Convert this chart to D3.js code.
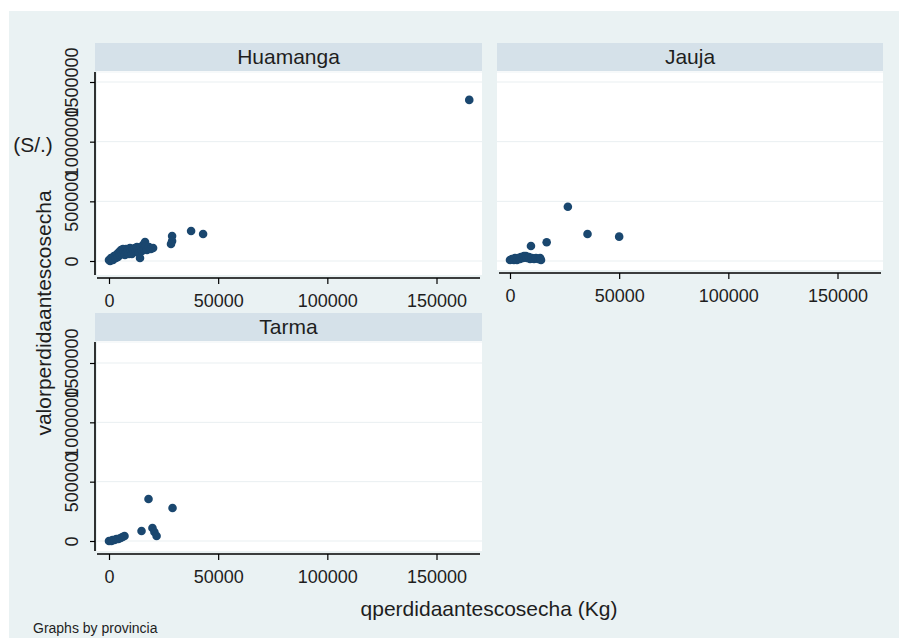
<!DOCTYPE html>
<html>
<head>
<meta charset="utf-8">
<script src="https://cdn.jsdelivr.net/npm/d3@7"></script>
<style>
  body { margin: 0; background: #ffffff; }
  svg { display: block; }
  text { font-family: "Liberation Sans", Arial, sans-serif; fill: #1e1e1e; }
</style>
</head>
<body>
<svg id="chart" width="899" height="638"></svg>
<script>
// Panels (one per provincia)
const provinces = ["Huamanga", "Jauja", "Tarma"];

// Axis ticks
const xTicks = [0, 50000, 100000, 150000];
const yTicks = [0, 500000, 1000000, 1500000];

// qperdidaantescosecha (Kg) and valorperdidaantescosecha (S/.) by provincia
const huamangaQ = [0, 500, 900, 1800, 2300, 3200, 3700, 4100, 4600, 5000, 5500, 6000, 6400, 6900, 7300, 7800, 8200, 8700, 9200, 9600, 10100, 10500, 11000, 11500, 11900, 12400, 12800, 13300, 13700, 14200, 14700, 15100, 15600, 16000, 16500, 16900, 17400, 18300, 19200, 20200, 28900, 28900, 28400, 37600, 43100, 165000];
const huamangaV = [8000, 0, 25000, 8000, 42000, 25000, 59000, 34000, 75000, 50000, 92000, 59000, 101000, 75000, 50000, 101000, 75000, 92000, 59000, 109000, 84000, 59000, 101000, 75000, 109000, 84000, 117000, 92000, 67000, 25000, 117000, 84000, 134000, 101000, 159000, 126000, 92000, 117000, 101000, 109000, 210000, 168000, 142000, 251000, 226000, 1350000];

const jaujaQ = [0, 900, 1800, 2300, 3200, 3700, 4600, 5000, 6000, 6400, 7300, 7800, 8700, 9200, 10100, 11000, 11900, 12900, 13800, 14200, 9600, 16800, 26500, 35500, 50000];
const jaujaV = [8000, 17000, 8000, 25000, 8000, 25000, 17000, 34000, 25000, 42000, 42000, 25000, 34000, 17000, 25000, 17000, 25000, 17000, 25000, 8000, 126000, 157000, 455000, 226000, 204000];

const tarmaQ = [0, 1100, 1600, 2500, 3400, 4300, 5300, 6200, 7100, 14900, 18100, 19900, 20800, 21800, 29100];
const tarmaV = [0, 0, 8000, 8000, 17000, 17000, 25000, 34000, 42000, 84000, 354000, 110000, 76000, 42000, 278000];

const seriesQ = { Huamanga: huamangaQ, Jauja: jaujaQ, Tarma: tarmaQ };
const seriesV = { Huamanga: huamangaV, Jauja: jaujaV, Tarma: tarmaV };

// Panel geometry
const layout = {
  Huamanga: { left: 95, right: 482, stripTop: 43, plotBottom: 275, x0: 109, y0: 261, yTop: 82, axisY: 278, yAxis: true },
  Jauja:    { left: 497, right: 883, stripTop: 43, plotBottom: 270, x0: 510, y0: 261, yTop: 82, axisY: 273, yAxis: false },
  Tarma:    { left: 95, right: 482, stripTop: 313, plotBottom: 551, x0: 109, y0: 541, yTop: 363, axisY: 554, yAxis: true }
};
const stripH = 28;

const svg = d3.select("#chart");
const fmt = d3.format("d");

// graph region
svg.append("rect").attr("x", 9).attr("y", 11).attr("width", 890).attr("height", 627).attr("fill", "#eaf2f3");

provinces.forEach(p => {
  const L = layout[p];
  const x = d3.scaleLinear().domain([0, 150000]).range([L.x0, L.x0 + 327.5]);
  const y = d3.scaleLinear().domain([0, 1500000]).range([L.y0, L.yTop]);
  const g = svg.append("g");

  // strip
  g.append("rect").attr("x", L.left).attr("y", L.stripTop).attr("width", L.right - L.left).attr("height", stripH).attr("fill", "#d5e1e9");
  g.append("text").attr("x", (L.left + L.right) / 2).attr("y", L.stripTop + 21)
    .attr("text-anchor", "middle").attr("font-size", 21).text(p);

  // plot region
  const pl = L.yAxis ? L.left + 2 : L.left;
  g.append("rect").attr("x", pl).attr("y", L.stripTop + stripH).attr("width", L.right - pl)
    .attr("height", L.plotBottom - L.stripTop - stripH).attr("fill", "#ffffff");

  // grid
  g.selectAll("line.grid").data(yTicks).join("line").attr("class", "grid")
    .attr("x1", pl).attr("x2", L.right).attr("y1", d => y(d)).attr("y2", d => y(d))
    .attr("stroke", "#e9eff1").attr("stroke-width", 1);
  g.append("line").attr("x1", pl).attr("x2", L.right)
    .attr("y1", L.stripTop + stripH + 1).attr("y2", L.stripTop + stripH + 1)
    .attr("stroke", "#eef3f5").attr("stroke-width", 1);

  // x axis
  const xa = g.append("g").attr("transform", `translate(0,${L.axisY})`)
    .call(d3.axisBottom(x).tickValues(xTicks).tickFormat(fmt).tickSize(6).tickPadding(6));
  xa.select(".domain").remove();
  xa.append("line").attr("x1", L.left + 2).attr("x2", L.right - 2).attr("y1", 0).attr("y2", 0)
    .attr("stroke", "#000").attr("stroke-width", 1.6);
  xa.selectAll(".tick line").attr("stroke", "#000").attr("stroke-width", 1.2);
  xa.selectAll(".tick text").attr("font-size", 18).attr("fill", "#1e1e1e")
    .attr("font-family", "Liberation Sans, Arial, sans-serif").attr("dy", "0.95em");

  // y axis
  if (L.yAxis) {
    const ya = g.append("g").attr("transform", `translate(${L.left},0)`)
      .call(d3.axisLeft(y).tickValues(yTicks).tickFormat(fmt).tickSize(5));
    ya.select(".domain").remove();
    ya.append("line").attr("x1", 0).attr("x2", 0).attr("y1", L.stripTop + stripH + 1).attr("y2", L.plotBottom)
      .attr("stroke", "#000").attr("stroke-width", 1.6);
    ya.selectAll(".tick line").attr("stroke", "#000").attr("stroke-width", 1.2);
    ya.selectAll(".tick text").attr("x", 0).attr("y", 0).attr("dy", 0)
      .attr("text-anchor", "middle").attr("transform", "translate(-17,0) rotate(-90)")
      .attr("font-size", 18).attr("fill", "#1e1e1e").attr("font-family", "Liberation Sans, Arial, sans-serif");
  }

  // markers
  const q = seriesQ[p], v = seriesV[p];
  g.selectAll("circle").data(q.map((d, i) => [d, v[i]])).join("circle")
    .attr("cx", d => x(d[0])).attr("cy", d => y(d[1])).attr("r", 4.3)
    .attr("fill", "#1a476f");
});

// axis titles and note
svg.append("text").attr("x", 489).attr("y", 616).attr("text-anchor", "middle").attr("font-size", 21)
  .text("qperdidaantescosecha (Kg)");
svg.append("text").attr("transform", "translate(51,313) rotate(-90)").attr("text-anchor", "middle").attr("font-size", 21)
  .text("valorperdidaantescosecha");
svg.append("text").attr("x", 33).attr("y", 152).attr("text-anchor", "middle").attr("font-size", 21)
  .text("(S/.)");
svg.append("text").attr("x", 33).attr("y", 633).attr("font-size", 14).text("Graphs by provincia");
</script>
</body>
</html>
